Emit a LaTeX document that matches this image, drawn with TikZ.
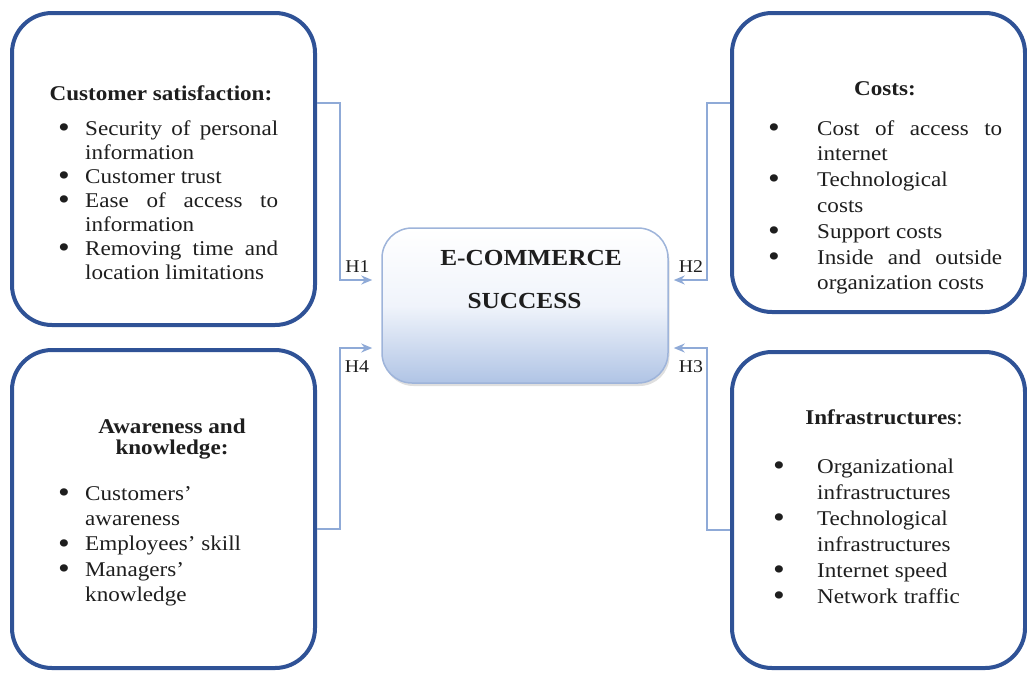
\documentclass[tikz,border=0pt]{standalone}
\usepackage{fontspec}
\usepackage{graphicx}
\setmainfont{Liberation Serif}[FakeStretch=1.1]
\usetikzlibrary{shadows,arrows.meta}
\definecolor{boxblue}{RGB}{47,82,150}
\definecolor{connblue}{RGB}{143,170,215}
\definecolor{cbot}{RGB}{176,196,229}
\definecolor{cmid}{RGB}{240,244,251}
\definecolor{cedge}{RGB}{158,180,218}
\definecolor{txt}{RGB}{30,30,30}
\newcommand{\bigbul}{\raisebox{-2.2pt}{\scalebox{1.45}{\textbullet}}}
\newcommand{\bul}[2]{\hbox{\hbox to #1{\kern-1pt\bigbul\hfil}#2}}
\newcommand{\cont}[2]{\hbox{\hbox to #1{}#2}}
\begin{document}
\begin{tikzpicture}[x=1pt,y=-1pt,
  bigbox/.style={draw=boxblue, line width=4pt, rounded corners=40pt, inner sep=0pt},
  centerbox/.style={draw=cedge, line width=1.5pt, rounded corners=30pt, inner sep=0pt,
    top color=white, bottom color=cbot, middle color=cmid,
    drop shadow={shadow xshift=1.5pt, shadow yshift=-3pt, opacity=0.25, fill=gray}},
  listtext/.style={anchor=base west, inner sep=0pt, text=txt, font=\fontsize{21}{24}\selectfont},
  titletext/.style={anchor=base, inner sep=0pt, text=txt, font=\fontsize{21}{22}\selectfont\bfseries},
  hlabel/.style={anchor=base, inner sep=0pt, text=txt, font=\fontsize{18}{20}\selectfont},
  conn/.style={draw=connblue, line width=2.2pt, -{Stealth[length=11pt,width=9pt]}}
]
\useasboundingbox (0,0) rectangle (1027,673);

% boxes
\node[bigbox, minimum width=303pt, minimum height=312pt] (b1) at (163.5,169) {};
\node[bigbox, minimum width=293pt, minimum height=299pt] (b2) at (878.5,162.5) {};
\node[bigbox, minimum width=293pt, minimum height=316pt] (b3) at (878.5,510) {};
\node[bigbox, minimum width=303pt, minimum height=318pt] (b4) at (163.5,509) {};
\node[centerbox, minimum width=286pt, minimum height=155pt] (ce) at (525,305.5) {};

% center title
\node[anchor=base, inner sep=0pt, text=txt, font=\fontsize{23}{43}\selectfont\bfseries] (ct) at (531,265)
  {\vtop{\baselineskip=43pt\hbox to 0pt{\hss E-COMMERCE\hss}\hbox to 0pt{\hss SUCCESS\hss\kern13pt}}};

% box 1
\node[titletext] (t1) at (161,100) {Customer satisfaction:};
\node[listtext] (l1) at (59,135) {\vtop{\baselineskip=24pt
  \bul{26pt}{\hbox to 193pt{Security\hfill of\hfill personal}}
  \cont{26pt}{information}
  \bul{26pt}{Customer trust}
  \bul{26pt}{\hbox to 193pt{Ease\hfill of\hfill access\hfill to}}
  \cont{26pt}{information}
  \bul{26pt}{\hbox to 193pt{Removing\hfill time\hfill and}}
  \cont{26pt}{location limitations}}};

% box 2
\node[titletext] (t2) at (885,95) {Costs:};
\node[listtext] (l2) at (769,135) {\vtop{\baselineskip=25.8pt
  \bul{48pt}{\hbox to 185pt{Cost\hfill of\hfill access\hfill to}}
  \cont{48pt}{internet}
  \bul{48pt}{Technological}
  \cont{48pt}{costs}
  \bul{48pt}{Support costs}
  \bul{48pt}{\hbox to 185pt{Inside\hfill and\hfill outside}}
  \cont{48pt}{organization costs}}};

% box 3
\node[anchor=base, inner sep=0pt, text=txt, font=\fontsize{21}{22}\selectfont] (t3) at (884,424) {\textbf{Infrastructures}:};
\node[listtext] (l3) at (774,473) {\vtop{\baselineskip=26pt
  \bul{43pt}{Organizational}
  \cont{43pt}{infrastructures}
  \bul{43pt}{Technological}
  \cont{43pt}{infrastructures}
  \bul{43pt}{Internet speed}
  \bul{43pt}{Network traffic}}};

% box 4
\node[titletext] (t4) at (172,433) {\vtop{\baselineskip=21pt\hbox to 0pt{\hss Awareness and\hss}\hbox to 0pt{\hss knowledge:\hss}}};
\node[listtext] (l4) at (59,500) {\vtop{\baselineskip=25.4pt
  \bul{26pt}{Customers’}
  \cont{26pt}{awareness}
  \bul{26pt}{Employees’ skill}
  \bul{26pt}{Managers’}
  \cont{26pt}{knowledge}}};

% connectors
\coordinate (k1) at (340,103);
\coordinate (a1) at (340,280);
\coordinate (k2) at (707,103);
\coordinate (a2) at (707,280);
\coordinate (k3) at (707,530);
\coordinate (a3) at (707,348);
\coordinate (k4) at (340,529);
\coordinate (a4) at (340,348);
\draw[conn, shorten >=9pt] (b1.east |- k1) -- (k1) -- (a1) -- (ce.west |- a1);
\draw[conn, shorten >=5pt] (b2.west |- k2) -- (k2) -- (a2) -- (ce.east |- a2);
\draw[conn, shorten >=5pt] (b3.west |- k3) -- (k3) -- (a3) -- (ce.east |- a3);
\draw[conn, shorten >=9pt] (b4.east |- k4) -- (k4) -- (a4) -- (ce.west |- a4);

% labels
\node[hlabel] (h1) at (357.5,272) {H1};
\node[hlabel] (h2) at (691,272) {H2};
\node[hlabel] (h3) at (691,372) {H3};
\node[hlabel] (h4) at (357,372) {H4};
\end{tikzpicture}
\end{document}
